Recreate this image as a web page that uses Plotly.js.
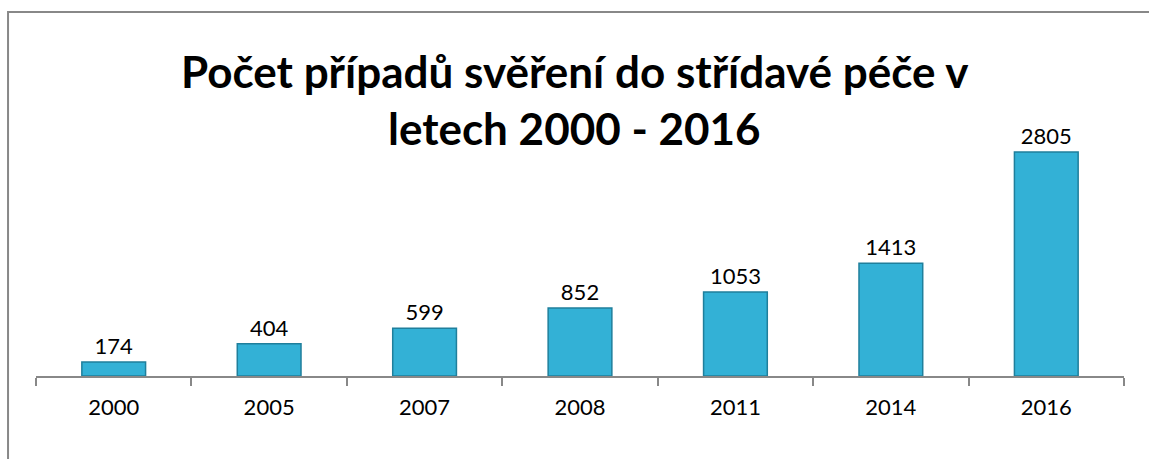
<!DOCTYPE html>
<html><head><meta charset="utf-8">
<script src="https://cdn.plot.ly/plotly-3.0.1.min.js"></script>
<style>html,body{margin:0;padding:0;background:#fff}</style>
</head><body>
<div id="chart" style="width:1149px;height:459px"></div>
<script>
const years = ["2000","2005","2007","2008","2011","2014","2016"];
const counts = [174, 404, 599, 852, 1053, 1413, 2805];
const titleLines = ["Počet případů svěření do střídavé péče v", "letech 2000 - 2016"];

const font = "Lato, 'Open Sans', sans-serif";
const trace = {
  type: "bar",
  x: years,
  y: counts,
  text: counts.map(String),
  textposition: "outside",
  cliponaxis: false,
  textfont: {family: font, size: 22, color: "#000"},
  marker: {color: "#33b1d6", line: {color: "#1f7f9c", width: 1.5}},
  hoverinfo: "x+y"
};
const layout = {
  width: 1149, height: 459,
  margin: {l: 36, r: 25, t: 120, b: 83},
  paper_bgcolor: "#fff", plot_bgcolor: "#fff",
  bargap: 0.59,
  showlegend: false,
  xaxis: {type: "category", showline: true, linecolor: "#888", linewidth: 1.5,
          ticks: "outside", tickson: "boundaries", ticklen: 8, tickcolor: "#888", tickwidth: 1.5,
          ticklabelstandoff: 11,
          tickfont: {family: font, size: 22, color: "#000"}, showgrid: false},
  yaxis: {range: [0, 3206], visible: false, showgrid: false, zeroline: false},
  annotations: [
    {text: titleLines[0], xref: "paper", yref: "paper", x: 0.4954, y: 1.192, xanchor: "center", yanchor: "middle",
     showarrow: false, font: {family: font, size: 44, color: "#000", weight: "bold"}},
    {text: titleLines[1], xref: "paper", yref: "paper", x: 0.4954, y: 0.97, xanchor: "center", yanchor: "middle",
     showarrow: false, font: {family: font, size: 44, color: "#000", weight: "bold"}}
  ],
  shapes: [{type: "rect", xref: "paper", yref: "paper",
            x0: -0.0257, x1: 1.03, y0: -0.4, y1: 1.4219,
            line: {color: "#888", width: 2}, fillcolor: "rgba(0,0,0,0)", layer: "below"}]
};
Plotly.newPlot("chart", [trace], layout, {displayModeBar: false});
</script>
</body></html>
